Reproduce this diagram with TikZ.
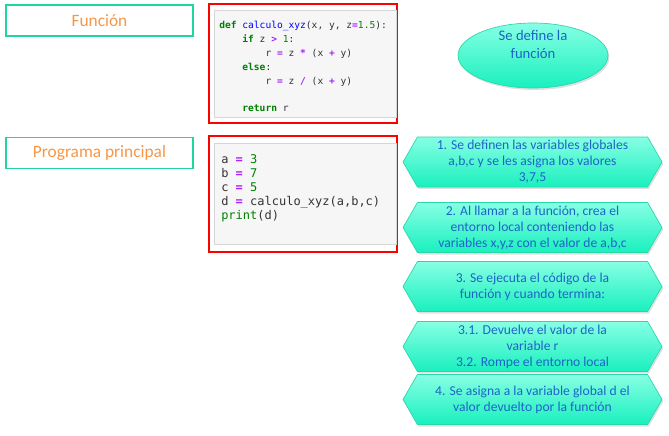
\documentclass[tikz,border=0pt]{standalone}
\usepackage{fontspec}
\setmainfont{Carlito}
\newfontfamily\codefont{DejaVu Sans Mono}
\usetikzlibrary{shapes.geometric,shapes.symbols,shadows}
\definecolor{teal_border}{RGB}{32,214,160}
\definecolor{orange_text}{RGB}{247,150,70}
\definecolor{blue_text}{RGB}{30,100,200}
\definecolor{aqua_top}{RGB}{135,255,228}
\definecolor{aqua_bottom}{RGB}{25,240,190}
\definecolor{aqua_edge}{RGB}{40,215,170}
\definecolor{code_bg}{RGB}{246,246,246}
\definecolor{code_edge}{RGB}{214,214,214}
\definecolor{code_red}{RGB}{255,0,0}
\definecolor{kw_green}{RGB}{0,128,0}
\definecolor{op_purple}{RGB}{170,34,255}
\definecolor{fn_blue}{RGB}{0,0,255}
\definecolor{code_gray}{RGB}{51,51,51}

\newcommand{\pykw}[1]{\textcolor{kw_green}{\textbf{#1}}}
\newcommand{\pyop}[1]{\textcolor{op_purple}{\textbf{#1}}}
\newcommand{\pynum}[1]{\textcolor{kw_green}{#1}}
\newcommand{\pyfn}[1]{\textcolor{fn_blue}{#1}}
\newcommand{\pyind}{\phantom{0000}}

\tikzset{
	label_box/.style={draw=teal_border,line width=0.9pt,minimum width=140.25pt,minimum height=23.25pt,inner sep=0pt,text=orange_text,font=\fontsize{13}{15}\selectfont},
	code_frame/.style={draw=code_red,line width=0.9pt,minimum width=141pt,inner sep=0pt},
	code_back/.style={draw=code_edge,line width=0.5pt,fill=code_bg,minimum width=136.5pt,inner sep=0pt},
	code_text/.style={anchor=north west,align=left,inner sep=0pt,text=code_gray},
	step_hex/.style={signal,signal to=west and east,signal pointer angle=120,draw=aqua_edge,line width=0.5pt,top color=aqua_top,bottom color=aqua_bottom,minimum width=194.25pt,minimum height=37.5pt,inner sep=0pt,align=center,text=blue_text,font=\fontsize{10.2}{12}\selectfont,drop shadow={shadow xshift=1pt,shadow yshift=-1.5pt,opacity=0.25}}
}

\begin{document}
\begin{tikzpicture}[x=0.75pt,y=-0.75pt]
	\useasboundingbox (0,0) rectangle (669,436);

	% etiquetas de la izquierda
	\node[label_box] (funcion) at (99.5,20.5) {Función};
	\node[label_box] (principal) at (99.5,153) {Programa principal};

	% codigo de la funcion
	\node[code_frame,minimum height=89.25pt] (marco1) at (303,63.5) {};
	\node[code_back,minimum height=80.25pt] (fondo1) at (305,63.5) {};
	\node[code_text,font=\codefont\fontsize{7.2}{10.4}\selectfont] (codigo1) at (219,21) {%
		\pykw{def} \pyfn{calculo\_xyz}(x, y, z\pyop{=}\pynum{1.5}):\\
		\pyind\pykw{if} z \pyop{>} \pynum{1}:\\
		\pyind\pyind r \pyop{=} z \pyop{*} (x \pyop{+} y)\\
		\pyind\pykw{else}:\\
		\pyind\pyind r \pyop{=} z \pyop{/} (x \pyop{+} y)\\
		\mbox{}\\
		\pyind\pykw{return} r};

	% codigo del programa principal
	\node[code_frame,minimum height=87pt] (marco2) at (303,194) {};
	\node[code_back,minimum height=75.75pt] (fondo2) at (305,193.5) {};
	\node[code_text,font=\codefont\fontsize{9}{10.5}\selectfont] (codigo2) at (221,154) {%
		a \pyop{=} \pynum{3}\\
		b \pyop{=} \pynum{7}\\
		c \pyop{=} \pynum{5}\\
		d \pyop{=} calculo\_xyz(a,b,c)\\
		\pynum{print}(d)};

	% elipse
	\node[ellipse,draw=aqua_edge,line width=0.5pt,top color=aqua_top,bottom color=aqua_bottom,minimum width=112.5pt,minimum height=48.75pt,drop shadow={shadow xshift=1pt,shadow yshift=-1.5pt,opacity=0.25}] (elipse) at (533,55.5) {};
	\node[align=center,text=blue_text,font=\fontsize{11}{13.5}\selectfont] (elipse_txt) at (533,44) {Se define la\\función};

	% pasos
	\foreach \y/\txt [count=\i] in {162/{1. Se definen las variables globales\\a,b,c y se les asigna los valores\\3,7,5},
		227.5/{2. Al llamar a la función, crea el\\entorno local conteniendo las\\variables x,y,z con el valor de a,b,c},
		286.5/{3. Se ejecuta el código de la\\función y cuando termina:},
		346.5/{3.1. Devuelve el valor de la\\variable r\\3.2. Rompe el entorno local},
		399.5/{4. Se asigna a la variable global d el\\valor devuelto por la función}}
		\node[step_hex] (paso\i) at (532.5,\y) {\txt};
\end{tikzpicture}
\end{document}
